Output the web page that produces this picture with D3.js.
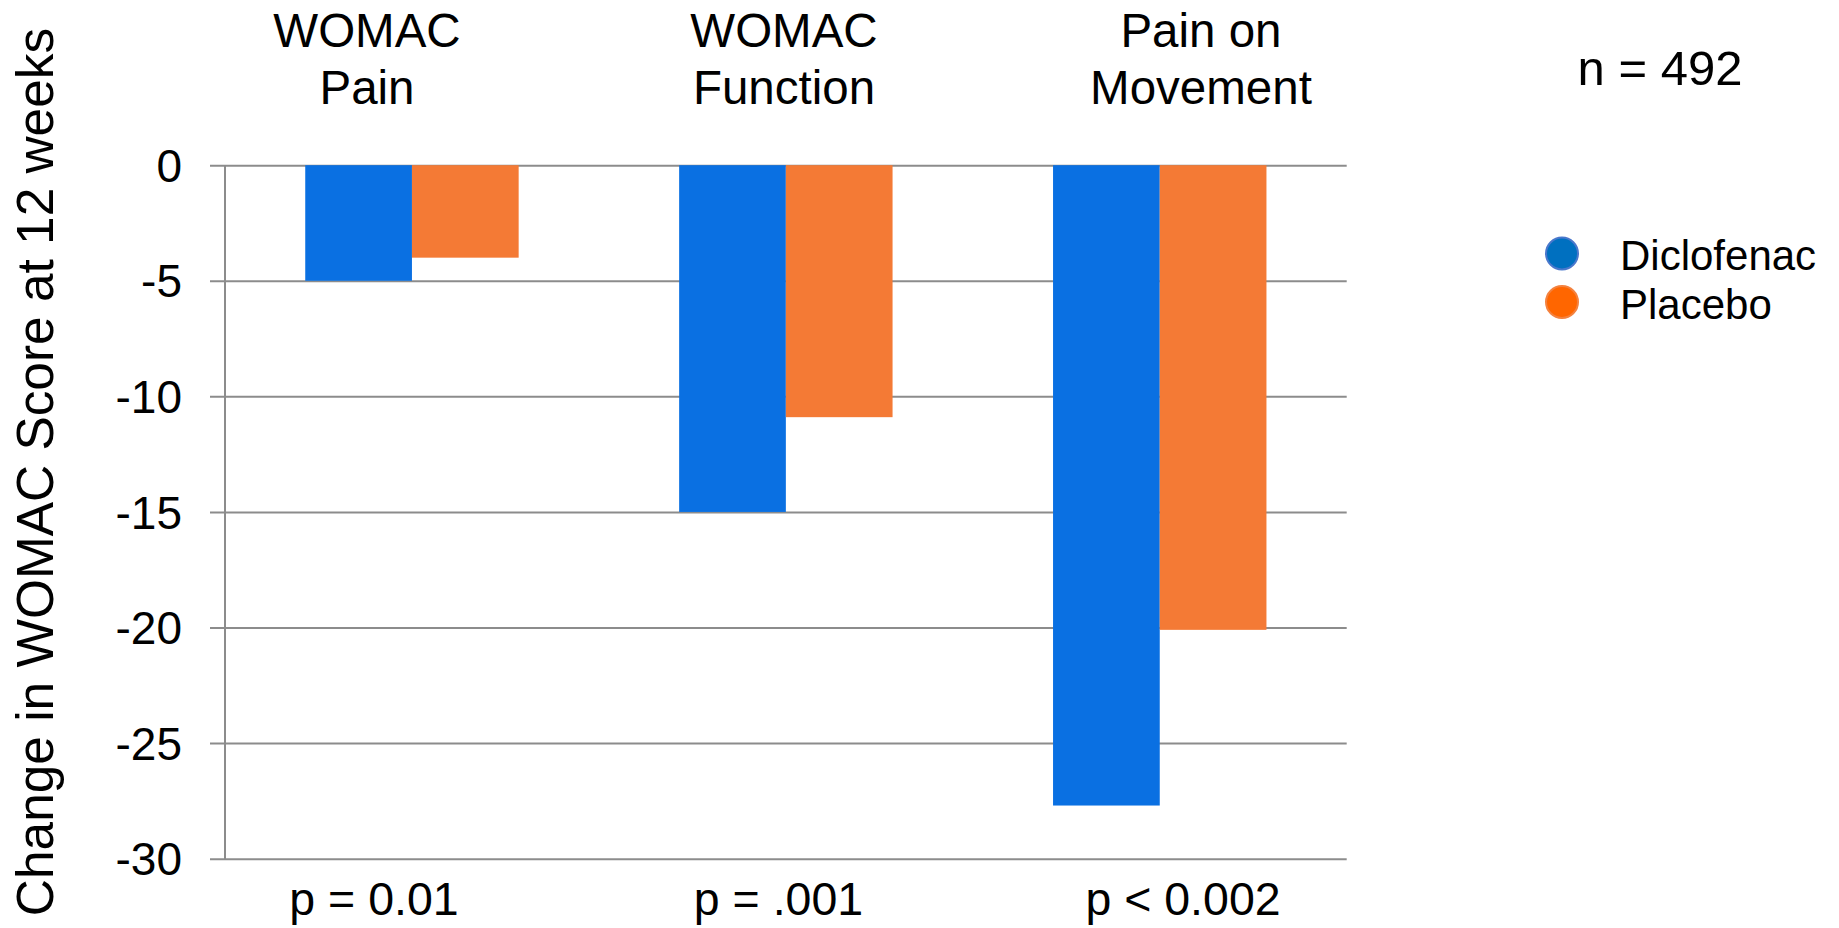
<!DOCTYPE html>
<html>
<head>
<meta charset="utf-8">
<script src="https://cdn.jsdelivr.net/npm/d3@7"></script>
<style>
  html, body { margin: 0; padding: 0; background: #fff; }
  svg { display: block; font-family: "Liberation Sans", Arial, sans-serif; }
</style>
</head>
<body>
<svg id="chart" width="1839" height="928"></svg>
<script>
// ---- data ----
const categories = ["WOMAC Pain", "WOMAC Function", "Pain on Movement"];
const categoryLines = [["WOMAC", "Pain"], ["WOMAC", "Function"], ["Pain on", "Movement"]];
const seriesNames = ["Diclofenac", "Placebo"];
const diclofenac = [-5, -15, -27.7];
const placebo = [-4, -10.9, -20.1];
const pValues = ["p = 0.01", "p = .001", "p < 0.002"];
const yTicks = [0, -5, -10, -15, -20, -25, -30];
const yTitle = "Change in WOMAC Score at 12 weeks";
const nLabel = "n = 492";

// ---- styles ----
const barColors = ["#0a70e2", "#f47a35"];
const legendFill = ["#0070c0", "#ff6600"];
const legendStroke = ["#4a78cc", "#f4823f"];
const gridColor = "#8c8c8c";

const svg = d3.select("#chart");
const plotL = 225, plotR = 1346.7, plotT = 165.2, plotB = 858.7;

const x0 = d3.scaleBand().domain(categories).range([plotL, plotR]).padding(0);
const x1 = d3.scaleBand().domain(seriesNames).range([0, x0.bandwidth()])
  .paddingInner(0).paddingOuter(0.752);
const y = d3.scaleLinear().domain([-30, 0]).range([plotB, plotT]);

// gridlines + tick labels via axis
const yAxis = d3.axisLeft(y).tickValues(yTicks).tickSize(0)
  .tickFormat(d => String(d)).tickPadding(0);
const gAxis = svg.append("g").attr("transform", `translate(${plotL - 15},0)`).call(yAxis);
gAxis.selectAll(".tick line").attr("x1", 0).attr("x2", plotR - plotL + 15)
  .attr("stroke", gridColor).attr("stroke-width", 2);
gAxis.select(".domain").remove();
gAxis.selectAll(".tick text")
  .attr("x", -(plotL - 15 - 182))
  .attr("font-size", 46).attr("fill", "#000")
  .attr("font-family", '"Liberation Sans", Arial, sans-serif')
  .attr("dy", "0.35em");

// vertical axis line
svg.append("line").attr("x1", plotL).attr("x2", plotL)
  .attr("y1", y(0)).attr("y2", y(-30) + 1)
  .attr("stroke", gridColor).attr("stroke-width", 2);

// bars
const data = categories.map((c, i) => ({ cat: c, vals: [diclofenac[i], placebo[i]] }));
const groups = svg.append("g").selectAll("g").data(data).join("g")
  .attr("transform", d => `translate(${x0(d.cat)},0)`);
groups.selectAll("rect").data(d => d.vals.map((v, j) => ({ s: seriesNames[j], v, j })))
  .join("rect")
  .attr("x", d => x1(d.s))
  .attr("width", x1.bandwidth())
  .attr("y", y(0))
  .attr("height", d => y(d.v) - y(0))
  .attr("fill", d => barColors[d.j]);

// category labels at top
const xLab = d3.scalePoint().domain(categories).range([367, 1201]);
categories.forEach((c, i) => {
  const t = svg.append("text").attr("text-anchor", "middle")
    .attr("font-size", 47.5).attr("fill", "#000");
  categoryLines[i].forEach((line, k) => {
    t.append("tspan").attr("x", xLab(c)).attr("y", 46.7 + k * 57).text(line);
  });
});

// p-values at bottom
const xP = d3.scalePoint().domain(categories).range([374, 1183]);
svg.append("g").selectAll("text").data(categories).join("text")
  .attr("x", d => xP(d)).attr("y", 915)
  .attr("text-anchor", "middle").attr("font-size", 46.5).attr("fill", "#000")
  .text((d, i) => pValues[i]);

// y title
svg.append("text")
  .attr("transform", `translate(53,472) rotate(-90)`)
  .attr("text-anchor", "middle").attr("font-size", 51.4).attr("fill", "#000")
  .text(yTitle);

// n label
svg.append("text").attr("x", 1660).attr("y", 85).attr("text-anchor", "middle")
  .attr("font-size", 49).attr("fill", "#000").text(nLabel);

// legend
const leg = svg.append("g").selectAll("g").data(seriesNames).join("g")
  .attr("transform", (d, i) => `translate(1562,${253.5 + i * 48.5})`);
leg.append("circle").attr("r", 16).attr("fill", (d, i) => legendFill[i])
  .attr("stroke", (d, i) => legendStroke[i]).attr("stroke-width", 2);
leg.append("text").attr("x", 58).attr("y", 16.5).attr("font-size", 42)
  .attr("fill", "#000").text(d => d);
</script>
</body>
</html>
